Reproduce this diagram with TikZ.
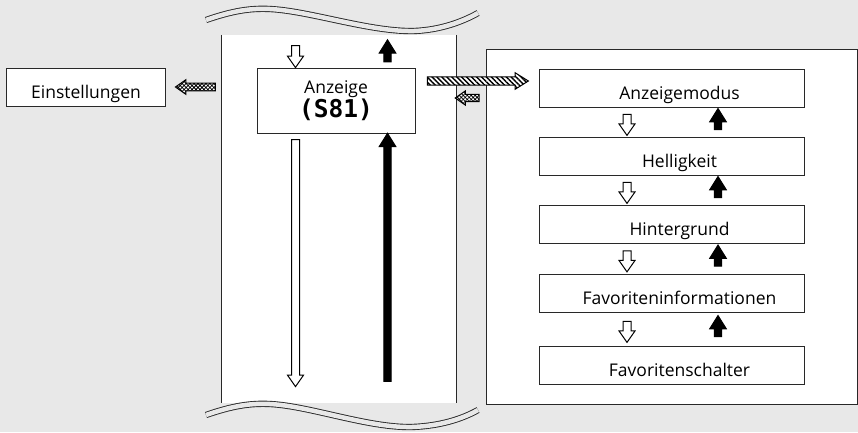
\documentclass[tikz,border=0pt]{standalone}
\usepackage{fontspec}
\setmainfont{Open Sans}
\newfontfamily\codefont{DejaVu Sans Mono}
\usetikzlibrary{shapes.arrows, patterns.meta}
\definecolor{bggray}{RGB}{232,232,232}
\definecolor{linegray}{RGB}{40,40,40}

\begin{document}
\begin{tikzpicture}[
  x=1bp, y=-1bp,
  font=\fontsize{17.5bp}{21bp}\selectfont,
  box/.style={draw=linegray, line width=1bp, fill=white, inner sep=0pt},
  tbox/.style={box, minimum height=38bp, text height=22bp, text depth=0pt},
  rbox/.style={tbox, minimum width=265bp, execute at begin node={\hspace*{16bp}}},
  panel/.style={fill=white, inner sep=0pt},
  along/.style={midway, sloped, allow upside down},
  hollow/.style={single arrow, draw=black, line width=1bp, fill=white, inner sep=3.5bp, outer sep=0pt, single arrow head extend=4bp, single arrow tip angle=70},
  solidarrow/.style={hollow, fill=black, inner sep=3.2bp, single arrow head extend=4.6bp, single arrow tip angle=64},
  hatched/.style={hollow, preaction={fill=white}, pattern={Lines[angle=-45, distance=3.5bp, line width=1.4bp]}, single arrow tip angle=64},
  checkered/.style={hollow, preaction={fill=white}, pattern={Hatch[angle=45, distance=2.8bp, line width=0.8bp]}, inner sep=3.3bp, single arrow head extend=3.5bp},
  wave/.style={draw=linegray, line width=0.9bp, double=bggray, double distance=4.5bp}
]
  \fill[bggray] (0,0) rectangle (858,432);
  \useasboundingbox (0,0) rectangle (858,432);

  % panels
  \node[panel, minimum width=234bp, minimum height=368bp] (col) at (339,219) {};
  \draw[linegray, line width=1bp] (col.north west) -- (col.south west) (col.north east) -- (col.south east);
  \node[panel, draw=linegray, line width=1bp, minimum width=371bp, minimum height=355bp] (menu) at (671.5,226.5) {};

  % breaks
  \draw[wave] (206,20) .. controls (232,11) and (250,8) .. (270,9)
    .. controls (310,11) and (370,32) .. (414,31) .. controls (440,30) and (462,22) .. (478,13);
  \draw[wave] (206,415) .. controls (232,406) and (250,403) .. (270,404)
    .. controls (310,406) and (368,428) .. (412,427) .. controls (440,426) and (462,419) .. (478,410);

  % boxes
  \node[tbox, minimum width=158bp] (einst) at (86,87) {Einstellungen};
  \node[box, minimum width=158bp, minimum height=65bp, align=center] (anz) at (336,100.5)
    {Anzeige\\{\codefont\bfseries\fontsize{24.5bp}{22bp}\selectfont (S81)}};
  \node[rbox] (modus) at (671.5,88) {Anzeigemodus};
  \node[rbox] (hell) at (671.5,156) {Helligkeit};
  \node[rbox] (hint) at (671.5,224) {Hintergrund};
  \node[rbox] (finfo) at (671.5,293) {Favoriteninformationen};
  \node[rbox] (fschalt) at (671.5,365) {Favoritenschalter};

  % column arrows
  \coordinate (intop) at (295.5,40);
  \coordinate (outtop) at (387.5,40);
  \coordinate (inbot) at (295.5,387);
  \coordinate (outbot) at (387.5,387);
  \path (intop) -- (intop |- anz.north) node[along, hollow, minimum height=22bp] {};
  \path (outtop |- anz.north) -- (outtop) node[along, solidarrow, minimum height=22bp] {};
  \path (intop |- anz.south) -- (inbot) node[along, hollow, minimum height=247bp] {};
  \path (outbot) -- (outtop |- anz.south) node[along, solidarrow, minimum height=248bp] {};

  % side arrows
  \path ([xshift=9bp, yshift=19.5bp]anz.east) -- ([xshift=-14bp, yshift=7bp]modus.west)
    node[along, hatched, minimum height=101bp] {};
  \path ([xshift=-4bp, yshift=-10bp]modus.west -| menu.west) -- ([xshift=2bp, yshift=-10bp]modus.west -| col.east)
    node[along, checkered, minimum height=24bp] {};
  \path ([xshift=-4bp]einst.east -| col.west) -- ([xshift=13bp]einst.east)
    node[along, checkered, minimum height=40bp] {};

  % menu arrows
  \coordinate (rdn) at (627,0);
  \coordinate (rup) at (718,0);
  \path (modus.south -| rdn) -- (hell.north -| rdn) node[along, hollow, minimum height=21bp] {};
  \path (hell.north -| rup) -- (modus.south -| rup) node[along, solidarrow, minimum height=21bp] {};
  \path (hell.south -| rdn) -- (hint.north -| rdn) node[along, hollow, minimum height=21bp] {};
  \path (hint.north -| rup) -- (hell.south -| rup) node[along, solidarrow, minimum height=21bp] {};
  \path (hint.south -| rdn) -- (finfo.north -| rdn) node[along, hollow, minimum height=21bp] {};
  \path (finfo.north -| rup) -- (hint.south -| rup) node[along, solidarrow, minimum height=21bp] {};
  \path (finfo.south -| rdn) -- (fschalt.north -| rdn) node[along, hollow, minimum height=21bp] {};
  \path (fschalt.north -| rup) -- (finfo.south -| rup) node[along, solidarrow, minimum height=21bp] {};
\end{tikzpicture}
\end{document}
